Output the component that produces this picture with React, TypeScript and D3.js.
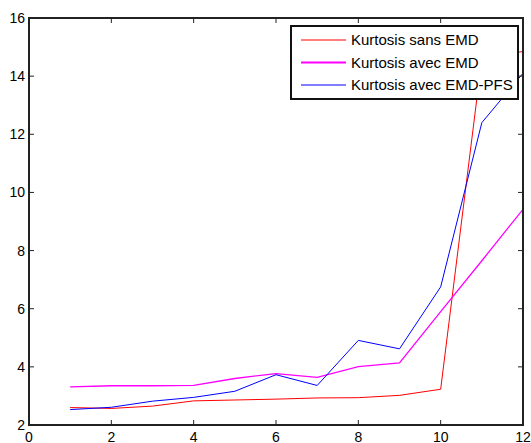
import * as d3 from "d3";

const xValues = [1, 2, 3, 4, 5, 6, 7, 8, 9, 10, 11, 12];
const sansEmd = [2.6, 2.57, 2.65, 2.83, 2.86, 2.89, 2.93, 2.94, 3.02, 3.23, 14.6, 14.85];
const avecEmd = [3.31, 3.35, 3.35, 3.36, 3.6, 3.77, 3.64, 4.01, 4.14, 5.9, 7.65, 9.42];
const avecPfs = [2.53, 2.61, 2.82, 2.95, 3.16, 3.73, 3.36, 4.91, 4.62, 6.75, 12.4, 14.1];
const xTicks = [0, 2, 4, 6, 8, 10, 12];
const yTicks = [2, 4, 6, 8, 10, 12, 14, 16];

const series = [
  { label: "Kurtosis sans EMD", values: sansEmd, color: "#ff0000", width: 1 },
  { label: "Kurtosis avec EMD", values: avecEmd, color: "#ff00ff", width: 1.3 },
  { label: "Kurtosis avec EMD-PFS", values: avecPfs, color: "#0000ff", width: 1 },
];

export default function App() {
  const width = 531;
  const height = 443;
  const margin = { top: 18, right: 8, bottom: 18, left: 29 };
  const x = d3.scaleLinear().domain([0, 12]).range([margin.left, width - margin.right]);
  const y = d3.scaleLinear().domain([2, 16]).range([height - margin.bottom, margin.top]);
  const line = d3
    .line<number>()
    .x((_, i) => x(xValues[i]))
    .y((d) => y(d));
  const font = "'Liberation Sans', Arial, sans-serif";
  const tick = 5;

  return (
    <div style={{ position: "fixed", left: 0, top: 0 }}>
      <svg width={width} height={height} viewBox={`0 0 ${width} ${height}`} style={{ display: "block", background: "#fff" }}>
        <defs>
          <clipPath id="plot">
            <rect x={x(0)} y={y(16)} width={x(12) - x(0)} height={y(2) - y(16)} />
          </clipPath>
        </defs>
        <g clipPath="url(#plot)">
          {series.map((s) => (
            <path key={s.label} d={line(s.values) ?? ""} fill="none" stroke={s.color} strokeWidth={s.width} />
          ))}
        </g>
        {xTicks.map((t) => (
          <g key={`x${t}`}>
            <line x1={x(t)} x2={x(t)} y1={y(2)} y2={y(2) - tick} stroke="#222" />
            <line x1={x(t)} x2={x(t)} y1={y(16)} y2={y(16) + tick} stroke="#222" />
            <text x={x(t)} y={y(2) + 17} textAnchor="middle" fontSize={14} fontFamily={font} fill="#000">
              {t}
            </text>
          </g>
        ))}
        {yTicks.map((t) => (
          <g key={`y${t}`}>
            <line x1={x(0)} x2={x(0) + tick} y1={y(t)} y2={y(t)} stroke="#222" />
            <line x1={x(12)} x2={x(12) - tick} y1={y(t)} y2={y(t)} stroke="#222" />
            <text x={x(0) - 4} y={y(t) + 5} textAnchor="end" fontSize={14} fontFamily={font} fill="#000">
              {t}
            </text>
          </g>
        ))}
        <rect x={x(0)} y={y(16)} width={x(12) - x(0)} height={y(2) - y(16)} fill="none" stroke="#222" strokeWidth={2} />
        <g transform="translate(291, 26)">
          <rect width={227} height={73} fill="#fff" stroke="#111" strokeWidth={2} />
          {series.map((s, i) => (
            <g key={s.label} transform={`translate(0, ${14 + i * 22.5})`}>
              <line x1={10} x2={55} y1={0} y2={0} stroke={s.color} strokeWidth={s.width === 1 ? 1 : 1.8} />
              <text x={60} y={5} fontSize={15} fontFamily={font} fill="#000">
                {s.label}
              </text>
            </g>
          ))}
        </g>
      </svg>
    </div>
  );
}
